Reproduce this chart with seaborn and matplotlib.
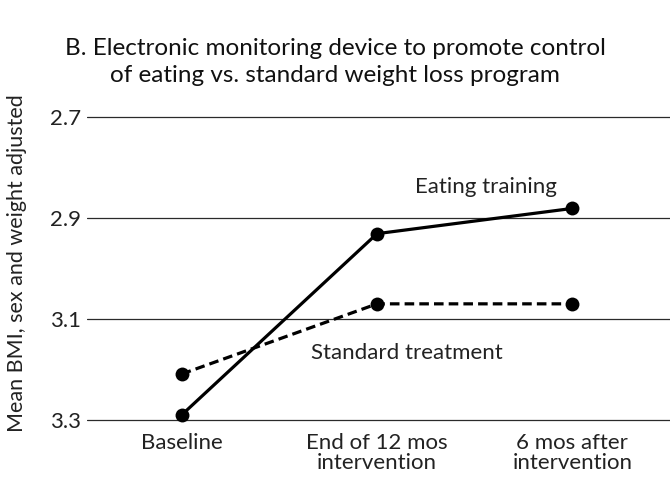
import pandas as pd
import seaborn as sns
import matplotlib.pyplot as plt

# data
timepoints = ['Baseline', 'End of 12 mos\nintervention', '6 mos after\nintervention']
eating_training = [3.29, 2.931, 2.881]
standard_treatment = [3.209, 3.070, 3.070]
yticks = [2.7, 2.9, 3.1, 3.3]

df = pd.DataFrame({
    'time': timepoints * 2,
    'bmi': eating_training + standard_treatment,
    'group': ['Eating training'] * 3 + ['Standard treatment'] * 3,
})

sns.set_style('white')
plt.rcParams['font.family'] = ['Lato', 'DejaVu Sans']

fig = plt.figure(figsize=(6.7, 4.78), dpi=100)
ax = fig.add_axes([87 / 670, 1 - 425 / 478, 1 - 87 / 670, 313 / 478])

sns.lineplot(data=df, x='time', y='bmi', style='group',
             dashes={'Eating training': '', 'Standard treatment': (3, 1.6)},
             markers={'Eating training': 'o', 'Standard treatment': 'o'},
             color='black', linewidth=2.3, markersize=10,
             markeredgewidth=0, legend=False, sort=False, ax=ax)

ax.set_xlim(-0.485, 2.5)
ax.set_ylim(3.31, 2.69)
ax.set_yticks(yticks)
ax.set_yticklabels([f'{v:.1f}' for v in yticks])
ax.yaxis.grid(True, color='#2a2a2a', linewidth=0.9)
ax.set_axisbelow(True)
for s in ax.spines.values():
    s.set_visible(False)
ax.tick_params(axis='both', length=0, labelsize=16, colors='#222222')
ax.tick_params(axis='y', pad=4)
ax.tick_params(axis='x', pad=6)
for lab in ax.get_xticklabels():
    lab.set_linespacing(1.0)
ax.set_xlabel('')
ax.set_ylabel('Mean BMI, sex and weight adjusted', fontsize=15.5, color='#222222')
ax.yaxis.set_label_coords(-0.103, 0.518)

ax.text(1.556, 2.839, 'Eating training', ha='center', va='center',
        fontsize=16, color='#222222')
ax.text(1.153, 3.167, 'Standard treatment', ha='center', va='center',
        fontsize=16, color='#222222')

fig.text(0.5, 1 - 62 / 478,
         'B. Electronic monitoring device to promote control\nof eating vs. standard weight loss program',
         ha='center', va='center', fontsize=17.5, color='#111111', linespacing=1.3)

plt.savefig('out.png', dpi=100)
